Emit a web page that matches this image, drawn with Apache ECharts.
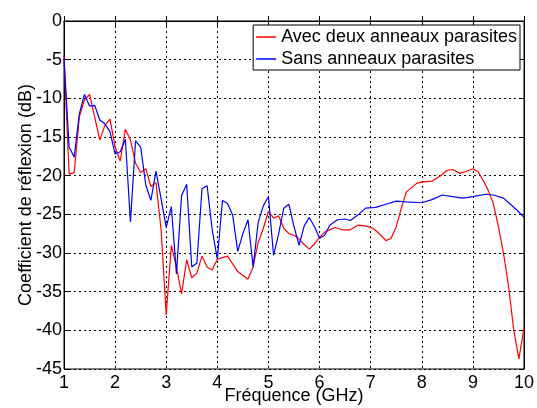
<!DOCTYPE html>
<html>
<head>
<meta charset="utf-8">
<script src="https://cdn.jsdelivr.net/npm/echarts@6/dist/echarts.min.js"></script>
<style>
  html, body { margin: 0; padding: 0; background: #fff; }
  #chart { width: 537px; height: 408px; }
</style>
</head>
<body>
<div id="chart"></div>
<script>
// Avec deux anneaux parasites (rouge)
var freqAvec = [1.0, 1.1, 1.2, 1.3, 1.4, 1.5, 1.6, 1.7, 1.8, 1.9,
    2.0, 2.1, 2.2, 2.3, 2.4, 2.5, 2.6, 2.7, 2.8, 2.9,
    3.0, 3.1, 3.2, 3.3, 3.4, 3.5, 3.6, 3.7, 3.8, 3.9,
    4.0, 4.2, 4.4, 4.6, 4.7, 4.8, 4.9,
    5.0, 5.1, 5.2, 5.3, 5.4, 5.5, 5.6, 5.7, 5.8, 5.9,
    6.0, 6.1, 6.3, 6.45, 6.6, 6.75, 6.9,
    7.05, 7.2, 7.3, 7.4, 7.5, 7.6, 7.7, 7.9,
    8.0, 8.2, 8.35, 8.5, 8.6, 8.75, 8.85,
    9.0, 9.1, 9.2, 9.3, 9.4, 9.5, 9.6, 9.7, 9.8, 9.9, 10.0];
var dbAvec = [-4.5, -19.8, -19.6, -12.4, -10.2, -9.5, -12.4, -15.4, -13.5, -12.7,
    -16.3, -18.1, -14.0, -15.4, -18.4, -19.6, -19.1, -21.4, -20.9, -27.0,
    -38.0, -29.0, -31.8, -35.3, -30.9, -33.2, -32.6, -30.4, -31.8, -32.2,
    -30.8, -30.4, -32.4, -33.4, -31.8, -28.6, -26.8,
    -24.6, -25.5, -25.2, -26.8, -27.5, -27.7, -28.2, -28.9, -29.5, -28.8,
    -28.0, -27.3, -26.7, -27.0, -27.0, -26.4, -26.5,
    -26.8, -27.7, -28.4, -28.1, -26.6, -24.2, -22.1, -21.0,
    -20.8, -20.7, -20.1, -19.3, -19.2, -19.7, -19.5,
    -19.1, -19.5, -20.6, -21.9, -23.6, -26.6, -30.1, -34.4, -40.0, -43.7, -39.7];

// Sans anneaux parasites (bleu)
var freqSans = [1.0, 1.1, 1.2, 1.3, 1.4, 1.5, 1.6, 1.7, 1.8, 1.9,
    2.0, 2.1, 2.2, 2.3, 2.4, 2.5, 2.6, 2.7, 2.8, 2.9,
    3.0, 3.1, 3.2, 3.3, 3.4, 3.5, 3.6, 3.7, 3.8, 3.9,
    4.0, 4.1, 4.2, 4.3, 4.4, 4.5, 4.6, 4.7, 4.8, 4.9,
    5.0, 5.1, 5.2, 5.3, 5.4, 5.5, 5.6, 5.7, 5.8, 5.9,
    6.0, 6.1, 6.2, 6.35, 6.5, 6.6, 6.75, 6.9,
    7.1, 7.3, 7.5, 7.7, 8.0, 8.2, 8.4, 8.6, 8.8,
    9.0, 9.25, 9.4, 9.6, 9.75, 9.9, 10.0];
var dbSans = [-4.8, -16.3, -17.6, -12.0, -9.5, -11.0, -10.9, -12.8, -13.3, -14.3,
    -17.2, -16.9, -15.3, -26.0, -15.5, -16.3, -21.2, -23.2, -19.4, -23.0,
    -26.7, -24.0, -32.7, -22.6, -21.1, -31.8, -31.3, -21.7, -21.3, -27.0,
    -30.8, -23.2, -23.6, -25.1, -29.8, -27.5, -25.7, -31.8, -26.0, -23.9,
    -22.7, -30.3, -27.5, -24.2, -23.7, -26.6, -29.0, -26.5, -25.4, -26.6,
    -28.1, -27.7, -26.4, -25.7, -25.6, -25.8, -25.1, -24.2,
    -24.1, -23.7, -23.3, -23.4, -23.5, -23.1, -22.5, -22.7, -22.9,
    -22.7, -22.4, -22.5, -22.9, -23.8, -24.7, -25.4];

var xTicks = [1, 2, 3, 4, 5, 6, 7, 8, 9, 10];
var yTicks = [-45, -40, -35, -30, -25, -20, -15, -10, -5, 0];

function zip(xs, ys) {
    return xs.map(function (x, i) { return [x, ys[i]]; });
}

var font = "'Liberation Sans', Arial, sans-serif";
var chart = echarts.init(document.getElementById('chart'));

var gridLine = { show: true, lineStyle: { color: '#000', type: [2, 3], width: 1 } };

var option = {
    animation: false,
    backgroundColor: '#fff',
    grid: {
        left: 64, right: 13, top: 21, bottom: 39,
        outerBoundsMode: 'none',
        containLabel: false,
        show: true, borderColor: '#000', borderWidth: 1
    },
    legend: {
        orient: 'vertical',
        right: 17,
        top: 25,
        backgroundColor: '#fff',
        borderColor: '#000',
        borderWidth: 1,
        padding: [3, 3, 2, 3],
        itemGap: 4,
        itemWidth: 20,
        itemHeight: 1.5,
        itemTextGap: 2,
        icon: 'rect',
        textStyle: { fontFamily: font, fontSize: 18, color: '#000' },
        data: ['Avec deux anneaux parasites', 'Sans anneaux parasites']
    },
    xAxis: [{
        type: 'value',
        min: xTicks[0],
        max: xTicks[xTicks.length - 1],
        interval: 1,
        name: 'Fréquence (GHz)',
        nameLocation: 'middle',
        nameGap: 18,
        nameMoveOverlap: false,
        nameTextStyle: { fontFamily: font, fontSize: 18, color: '#000' },
        axisLine: { lineStyle: { color: '#000', width: 1 } },
        axisTick: { inside: true, length: 5, lineStyle: { color: '#000' } },
        axisLabel: { fontFamily: font, fontSize: 18, color: '#000', margin: 5 },
        splitLine: gridLine
    }, {
        type: 'value', position: 'top',
        min: xTicks[0], max: xTicks[xTicks.length - 1], interval: 1,
        axisLine: { lineStyle: { color: '#000' } },
        axisTick: { inside: true, length: 5, lineStyle: { color: '#000' } },
        axisLabel: { show: false },
        splitLine: { show: false }
    }],
    yAxis: [{
        type: 'value',
        min: yTicks[0],
        max: yTicks[yTicks.length - 1],
        interval: 5,
        name: 'Coefficient de réflexion (dB)',
        nameLocation: 'middle',
        nameGap: 29,
        nameMoveOverlap: false,
        nameTextStyle: { fontFamily: font, fontSize: 18, color: '#000' },
        axisLine: { show: true, lineStyle: { color: '#000', width: 1 } },
        axisTick: { show: true, inside: true, length: 5, lineStyle: { color: '#000' } },
        axisLabel: { fontFamily: font, fontSize: 18, color: '#000', margin: 2 },
        splitLine: gridLine
    }, {
        type: 'value', position: 'right',
        min: yTicks[0], max: yTicks[yTicks.length - 1], interval: 5,
        axisLine: { show: true, lineStyle: { color: '#000' } },
        axisTick: { show: true, inside: true, length: 5, lineStyle: { color: '#000' } },
        axisLabel: { show: false },
        splitLine: { show: false }
    }],
    series: [
        {
            name: 'Avec deux anneaux parasites',
            type: 'line',
            data: zip(freqAvec, dbAvec),
            showSymbol: false,
            color: '#ff0000',
            lineStyle: { color: '#ff0000', width: 1.2 },
            z: 3
        },
        {
            name: 'Sans anneaux parasites',
            type: 'line',
            data: zip(freqSans, dbSans),
            showSymbol: false,
            color: '#0000ff',
            lineStyle: { color: '#0000ff', width: 1.2 },
            z: 4
        }
    ]
};

chart.setOption(option);
</script>
</body>
</html>
